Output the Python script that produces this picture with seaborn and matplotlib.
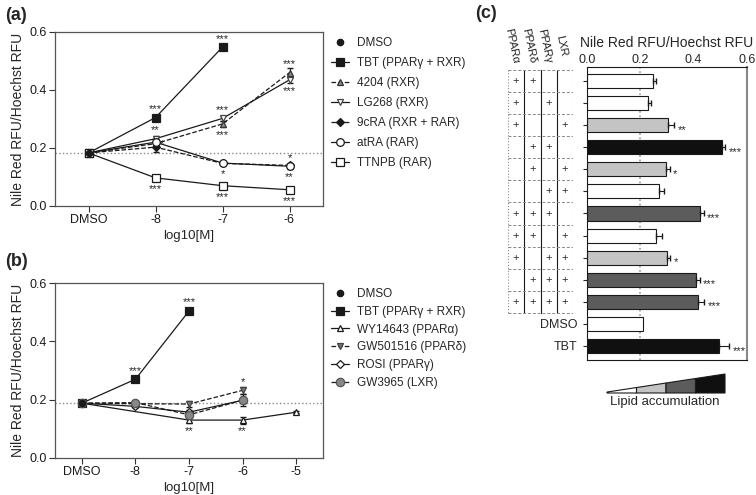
import numpy as np
import pandas as pd
import matplotlib.pyplot as plt
import seaborn as sns

sns.set_theme(style="ticks")
plt.rcParams['font.family'] = ['Liberation Sans', 'DejaVu Sans']
plt.rcParams['xtick.labelsize'] = 9
plt.rcParams['ytick.labelsize'] = 9

# ---------------- data ----------------
dmso_a = 0.183
dmso_b = 0.188

# panel (a): RXR / RAR agonists
a_tbt_x = [-9, -8, -7]
a_tbt_y = [0.183, 0.305, 0.548]
a_tbt_e = [0, 0.008, 0.010]
a_dose = [-9, -8, -7, -6]
a_4204_y = [0.183, 0.215, 0.283, 0.460]
a_4204_e = [0, 0.008, 0.010, 0.015]
a_lg268_y = [0.183, 0.232, 0.302, 0.435]
a_lg268_e = [0, 0.008, 0.010, 0.012]
a_9cra_y = [0.183, 0.203, 0.147, 0.140]
a_9cra_e = [0, 0.018, 0.005, 0.006]
a_atra_y = [0.183, 0.220, 0.148, 0.137]
a_atra_e = [0, 0.010, 0.005, 0.008]
a_ttnpb_y = [0.183, 0.097, 0.070, 0.056]
a_ttnpb_e = [0, 0.005, 0.005, 0.004]

# panel (b): PPAR / LXR agonists
b_tbt_x = [-9, -8, -7]
b_tbt_y = [0.188, 0.270, 0.504]
b_tbt_e = [0, 0.005, 0.006]
b_wy_x = [-9, -7, -6, -5]
b_wy_y = [0.188, 0.130, 0.130, 0.157]
b_wy_e = [0, 0.010, 0.012, 0.004]
b_dose = [-9, -8, -7, -6]
b_gw5_y = [0.188, 0.186, 0.185, 0.232]
b_gw5_e = [0, 0.005, 0.010, 0.012]
b_rosi_y = [0.188, 0.177, 0.157, 0.198]
b_rosi_e = [0, 0.004, 0.008, 0.010]
b_gw3_y = [0.188, 0.190, 0.148, 0.198]
b_gw3_e = [0, 0.005, 0.012, 0.020]

# significance: (series, dose, stars, where)
stars_a = [('TBT', -8, '***', 'up'), ('TBT', -7, '***', 'up'),
           ('LG268', -8, '**', 'up'), ('atRA', -8, '*', 'right'),
           ('TTNPB', -8, '***', 'down'),
           ('LG268', -7, '***', 'up'), ('4204', -7, '***', 'down'),
           ('atRA', -7, '*', 'down'), ('TTNPB', -7, '***', 'down'),
           ('4204', -6, '***', 'up'), ('LG268', -6, '***', 'down'),
           ('atRA', -6, '*', 'up'), ('atRA', -6, '**', 'down'),
           ('TTNPB', -6, '***', 'down')]
stars_b = [('TBT', -8, '***', 'up'), ('TBT', -7, '***', 'up'),
           ('WY14643', -7, '**', 'down'), ('GW501516', -6, '*', 'up'),
           ('WY14643', -6, '**', 'down')]

# panel (c): receptor combinations
receptors = ['PPARα', 'PPARδ', 'PPARγ', 'LXR']
combos = [[1, 1, 0, 0], [1, 0, 1, 0], [1, 0, 0, 1], [0, 1, 1, 0],
          [0, 1, 0, 1], [0, 0, 1, 1], [1, 1, 1, 0], [1, 1, 0, 1],
          [1, 0, 1, 1], [0, 1, 1, 1], [1, 1, 1, 1]]
bar_labels = [''] * 11 + ['DMSO', 'TBT']
bar_values = [0.247, 0.228, 0.303, 0.508, 0.295, 0.270, 0.422, 0.258,
              0.300, 0.407, 0.415, 0.210, 0.494]
bar_errs = [0.012, 0.012, 0.025, 0.010, 0.015, 0.020, 0.015, 0.025,
            0.012, 0.015, 0.025, 0.0, 0.040]
bar_levels = [0, 0, 1, 3, 1, 0, 2, 0, 1, 2, 2, 0, 3]
bar_stars = ['', '', '**', '***', '*', '', '***', '', '*', '***', '***', '', '***']
level_colors = ['white', '#c4c4c4', '#5c5c5c', '#101010']

W, H = 756, 495
fig = plt.figure(figsize=(W / 100, H / 100), dpi=100)
ax_a = fig.add_axes([55 / W, 1 - 206 / H, 268 / W, 174 / H])
ax_b = fig.add_axes([55 / W, 1 - 458 / H, 268 / W, 175 / H])
ax_t = fig.add_axes([508 / W, 1 - 360 / H, 65 / W, 293 / H])
ax_c = fig.add_axes([587 / W, 1 - 360 / H, 160 / W, 293 / H])
ax_w = fig.add_axes([607 / W, 1 - 393 / H, 118 / W, 19 / H])

STAR_FS = 8


def draw_series(ax, x, y, e, marker, face, ls, ms, label, edge='k'):
    ax.errorbar(x, y, yerr=e, fmt='none', ecolor='k', elinewidth=0.8,
                capsize=2, zorder=2)
    line, = ax.plot(x, y, color='k', lw=0.9, ls=ls, marker=marker,
                    markerfacecolor=face, markeredgecolor=edge,
                    markeredgewidth=0.9, markersize=ms, label=label, zorder=3)
    return line


def style_dose_axes(ax, ticks, labels, xlim, dmso):
    ax.axhline(dmso, color='#888888', ls=':', lw=1.0, zorder=1)
    ax.set_xlim(xlim)
    ax.set_ylim(0, 0.6)
    ax.set_xticks(ticks)
    ax.set_xticklabels(labels)
    ax.set_yticks([0, 0.2, 0.4, 0.6])
    ax.set_yticklabels(['0.0', '0.2', '0.4', '0.6'])
    ax.set_xlabel('log10[M]', fontsize=9.5, labelpad=3)
    ax.set_ylabel('Nile Red RFU/Hoechst RFU', fontsize=10, labelpad=3)
    for s in ax.spines.values():
        s.set_color('#555555')
        s.set_linewidth(0.9)
    ax.tick_params(length=4, width=0.8, pad=2, colors='#333333', labelcolor='k')


def add_stars(ax, table, stars):
    for name, dose, txt, where in stars:
        xs, ys = table[name]
        y = ys[xs.index(dose)]
        if where == 'up':
            ax.text(dose, y + 0.012, txt, ha='center', va='bottom', fontsize=STAR_FS)
        elif where == 'down':
            ax.text(dose, y - 0.055, txt, ha='center', va='bottom', fontsize=STAR_FS)
        else:
            ax.text(dose + 0.07, y - 0.022, txt, ha='left', va='bottom', fontsize=STAR_FS)


# ---------------- panel (a) ----------------
ha = []
ha.append(ax_a.plot([-9], [dmso_a], 'o', color='k', ms=4.5, label='DMSO', zorder=4)[0])
ha.append(draw_series(ax_a, a_tbt_x, a_tbt_y, a_tbt_e, 's', 'k', '-', 6, 'TBT (PPARγ + RXR)'))
ha.append(draw_series(ax_a, a_dose, a_4204_y, a_4204_e, '^', '#8a8a8a', '--', 5, '4204 (RXR)', edge='#333333'))
ha.append(draw_series(ax_a, a_dose, a_lg268_y, a_lg268_e, 'v', 'white', '-', 5, 'LG268 (RXR)', edge='#444444'))
ha.append(draw_series(ax_a, a_dose, a_9cra_y, a_9cra_e, 'D', 'k', '--', 3.8, '9cRA (RXR + RAR)'))
ha.append(draw_series(ax_a, a_dose, a_atra_y, a_atra_e, 'o', 'white', '-', 5.5, 'atRA (RAR)'))
ha.append(draw_series(ax_a, a_dose, a_ttnpb_y, a_ttnpb_e, 's', 'white', '-', 5.5, 'TTNPB (RAR)'))
style_dose_axes(ax_a, [-9, -8, -7, -6], ['DMSO', '-8', '-7', '-6'], (-9.5, -5.5), dmso_a)
table_a = {'TBT': (a_tbt_x, a_tbt_y), '4204': (a_dose, a_4204_y),
           'LG268': (a_dose, a_lg268_y), 'atRA': (a_dose, a_atra_y),
           'TTNPB': (a_dose, a_ttnpb_y)}
add_stars(ax_a, table_a, stars_a)
ax_a.legend(handles=ha, loc='upper left', bbox_to_anchor=(1.0, 1.02),
            frameon=False, fontsize=8.5, handlelength=1.5, handletextpad=0.7,
            labelspacing=0.68, borderaxespad=0.3)

# ---------------- panel (b) ----------------
hb = []
hb.append(ax_b.plot([-9], [dmso_b], 'o', color='k', ms=4.5, label='DMSO', zorder=4)[0])
hb.append(draw_series(ax_b, b_tbt_x, b_tbt_y, b_tbt_e, 's', 'k', '-', 5.5, 'TBT (PPARγ + RXR)'))
hb.append(draw_series(ax_b, b_wy_x, b_wy_y, b_wy_e, '^', 'white', '-', 5, 'WY14643 (PPARα)'))
hb.append(draw_series(ax_b, b_dose, b_gw5_y, b_gw5_e, 'v', '#777777', '--', 5, 'GW501516 (PPARδ)', edge='#444444'))
hb.append(draw_series(ax_b, b_dose, b_rosi_y, b_rosi_e, 'D', 'white', '-', 3.8, 'ROSI (PPARγ)'))
hb.append(draw_series(ax_b, b_dose, b_gw3_y, b_gw3_e, 'o', '#888888', '--', 6, 'GW3965 (LXR)', edge='#555555'))
style_dose_axes(ax_b, [-9, -8, -7, -6, -5], ['DMSO', '-8', '-7', '-6', '-5'], (-9.5, -4.5), dmso_b)
table_b = {'TBT': (b_tbt_x, b_tbt_y), 'WY14643': (b_wy_x, b_wy_y),
           'GW501516': (b_dose, b_gw5_y)}
add_stars(ax_b, table_b, stars_b)
ax_b.legend(handles=hb, loc='upper left', bbox_to_anchor=(1.0, 1.02),
            frameon=False, fontsize=8.5, handlelength=1.5, handletextpad=0.7,
            labelspacing=0.5, borderaxespad=0.3)

# ---------------- panel (c) bars ----------------
df_c = pd.DataFrame({'row': [str(i) for i in range(len(bar_values))],
                     'value': bar_values})
sns.barplot(data=df_c, x='value', y='row', hue='row', orient='h',
            palette=[level_colors[l] for l in bar_levels], saturation=1,
            legend=False, width=0.64, edgecolor='k', linewidth=0.8, ax=ax_c)
rows = np.arange(len(bar_values))
errs = np.array(bar_errs)
has_err = errs > 0
ax_c.errorbar(np.array(bar_values)[has_err], rows[has_err],
              xerr=[np.zeros(has_err.sum()), errs[has_err]], fmt='none',
              ecolor='k', elinewidth=0.8, capsize=2)
for i, s in enumerate(bar_stars):
    if s:
        ax_c.text(bar_values[i] + bar_errs[i] + 0.012, i + 0.35, s,
                  ha='left', va='baseline', fontsize=STAR_FS)
ax_c.axvline(0.2, color='#999999', ls=':', lw=1.2, zorder=0)
ax_c.set_xlim(0, 0.6)
ax_c.set_ylim(12.64, -0.64)
ax_c.set_yticks(rows)
ax_c.set_yticklabels(bar_labels, fontsize=9)
ax_c.set_ylabel('')
ax_c.xaxis.tick_top()
ax_c.xaxis.set_label_position('top')
ax_c.set_xticks([0, 0.2, 0.4, 0.6])
ax_c.set_xticklabels(['0.0', '0.2', '0.4', '0.6'])
ax_c.set_xlabel('Nile Red RFU/Hoechst RFU', fontsize=10, labelpad=5)
ax_c.tick_params(axis='y', length=3, width=0.8, pad=4)
ax_c.tick_params(axis='x', length=0, pad=1)
for s in ax_c.spines.values():
    s.set_color('k')
    s.set_linewidth(0.8)
ax_c.spines['right'].set_color('#888888')
ax_c.spines['right'].set_linewidth(1.5)

# ---------------- panel (c) table ----------------
n_comb = len(combos)
ax_t.set_xlim(0, len(receptors))
ax_t.set_ylim(12.64, -0.64)
ax_t.axis('off')
for j in range(1, len(receptors)):
    ax_t.plot([j, j], [-0.5, n_comb - 0.5], color='k', lw=0.8)
for j in (0, len(receptors)):
    ax_t.plot([j, j], [-0.5, n_comb - 0.5], color='#888888', lw=0.8, ls=':')
for i in range(n_comb + 1):
    ax_t.plot([0, len(receptors)], [i - 0.5, i - 0.5], color='#888888', lw=0.7, ls=(0, (3, 2)))
for i, combo in enumerate(combos):
    for j, on in enumerate(combo):
        if on:
            ax_t.text(j + 0.5, i, '+', ha='center', va='center', fontsize=8)
for j, name in enumerate(receptors):
    ax_t.text(j + 0.25, -1.6, name, ha='center', va='center', rotation=-78,
              fontsize=8)

# ---------------- lipid accumulation wedge ----------------
ax_w.set_xlim(0, 4)
ax_w.set_ylim(0, 1)
ax_w.axis('off')
for k, col in enumerate(level_colors):
    h0 = 0.05 + 0.95 * k / 4
    h1 = 0.05 + 0.95 * (k + 1) / 4
    ax_w.fill([k, k + 1, k + 1, k], [0, 0, h1, h0], facecolor=col,
              edgecolor='k', lw=0.8, clip_on=False)
fig.text(665 / W, 1 - 402 / H, 'Lipid accumulation', ha='center', va='center',
         fontsize=9.5)

# ---------------- panel letters ----------------
fig.text(5 / W, 1 - 15 / H, '(a)', fontsize=13, fontweight='bold', va='center')
fig.text(5 / W, 1 - 262 / H, '(b)', fontsize=13, fontweight='bold', va='center')
fig.text(475 / W, 1 - 14 / H, '(c)', fontsize=13, fontweight='bold', va='center')

fig.savefig('out.png', dpi=100)
